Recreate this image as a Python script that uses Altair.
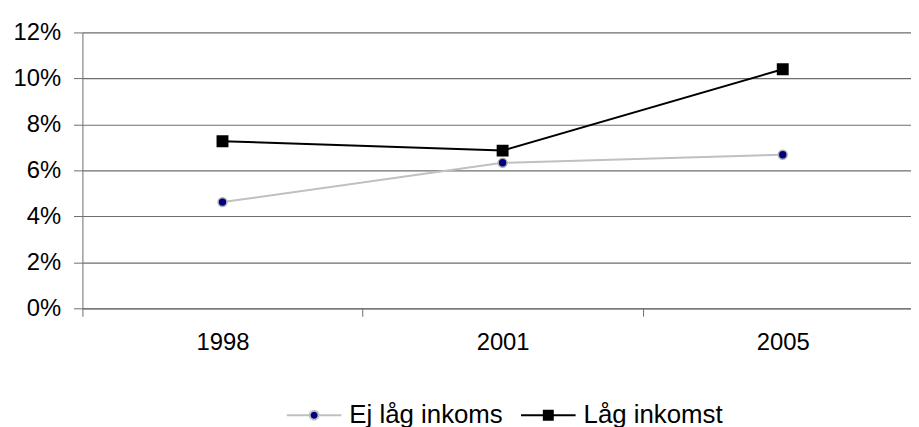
import altair as alt
import pandas as pd

years = ["1998", "2001", "2005"]
series_names = ["Ej låg inkoms", "Låg inkomst"]
ej_lag = [0.0462, 0.0633, 0.0668]
lag = [0.0727, 0.0686, 0.1040]
y_ticks = [0.0, 0.02, 0.04, 0.06, 0.08, 0.10, 0.12]

rows = []
for i, yr in enumerate(years):
    rows.append({"year": yr, "xi": i + 0.5, "series": series_names[0], "value": ej_lag[i]})
    rows.append({"year": yr, "xi": i + 0.5, "series": series_names[1], "value": lag[i]})
df = pd.DataFrame(rows)

FONT = "Liberation Sans"
GRAY_LINE = "#c0c0c0"
NAVY = "#000080"
GRID = "#6e6e6e"

W = 835
H = 278
BAND = 282.3

label_expr = "[" + ",".join("'%s'" % y for y in years) + "][datum.value]"

x_enc = alt.X(
    "xi:Q",
    scale=alt.Scale(domain=[0, W / BAND], nice=False, zero=False),
    axis=alt.Axis(
        values=[0, 1, 2],
        labelExpr=label_expr,
        labelOffset=BAND / 2,
        labelFlush=False,
        labelOverlap=False,
        grid=False,
        title=None,
        tickSize=8,
        tickColor=GRID,
        domainColor=GRID,
        labelFont=FONT,
        labelFontSize=24,
        labelColor="black",
        labelPadding=15,
    ),
)
y_enc = alt.Y(
    "value:Q",
    scale=alt.Scale(domain=[0, 0.12], nice=False),
    axis=alt.Axis(
        values=y_ticks,
        format=".0%",
        title=None,
        grid=True,
        gridColor=GRID,
        gridWidth=1.2,
        tickSize=9,
        tickColor=GRID,
        domainColor=GRID,
        labelFont=FONT,
        labelFontSize=24,
        labelColor="black",
        labelPadding=13,
    ),
)

lines = alt.Chart(df).mark_line(strokeWidth=2).encode(
    x=x_enc,
    y=y_enc,
    stroke=alt.Stroke("series:N", scale=alt.Scale(domain=series_names, range=[GRAY_LINE, "black"]), legend=None),
)

points = alt.Chart(df).mark_point(filled=True, opacity=1, strokeWidth=1.5).encode(
    x=x_enc,
    y=y_enc,
    shape=alt.Shape("series:N", scale=alt.Scale(domain=series_names, range=["circle", "square"]), legend=None),
    fill=alt.Fill("series:N", scale=alt.Scale(domain=series_names, range=[NAVY, "black"]), legend=None),
    stroke=alt.Stroke("series:N", scale=alt.Scale(domain=series_names, range=["#b0b0b0", "black"]), legend=None),
    size=alt.Size("series:N", scale=alt.Scale(domain=series_names, range=[80, 110]), legend=None),
)

r = 0.164
path_ej = (
    f"M-1,0L{-r},0M{r},0L1,0"
    f"M{-r},0A{r},{r},0,1,1,{r},0A{r},{r},0,1,1,{-r},0Z"
)
path_lag = f"M-1,0L1,0M{-r},{-r}L{r},{-r}L{r},{r}L{-r},{r}Z"

legend_layer = alt.Chart(df).transform_filter("false").mark_point(filled=True, opacity=1).encode(
    x=x_enc,
    y=y_enc,
    shape=alt.Shape(
        "series:N",
        scale=alt.Scale(domain=series_names, range=[path_ej, path_lag]),
        legend=alt.Legend(
            orient="none",
            legendX=205,
            legendY=357,
            direction="horizontal",
            title=None,
            symbolSize=3025,
            symbolStrokeWidth=2,
            symbolOpacity=1,
            labelFont=FONT,
            labelFontSize=26,
            labelColor="black",
            labelOffset=7,
            columnPadding=14,
        ),
    ),
    fill=alt.Fill("series:N", scale=alt.Scale(domain=series_names, range=[NAVY, "black"])),
    stroke=alt.Stroke("series:N", scale=alt.Scale(domain=series_names, range=[GRAY_LINE, "black"])),
)

chart = (
    alt.layer(lines, points, legend_layer)
    .resolve_scale(shape="independent", fill="independent", stroke="independent", size="independent")
    .properties(width=W, height=H, padding={"left": 4, "top": 11, "right": 0, "bottom": 0}, background="white")
    .configure_view(stroke=None)
)

chart.save("out.html", embed_options={"renderer": "svg", "actions": False})
